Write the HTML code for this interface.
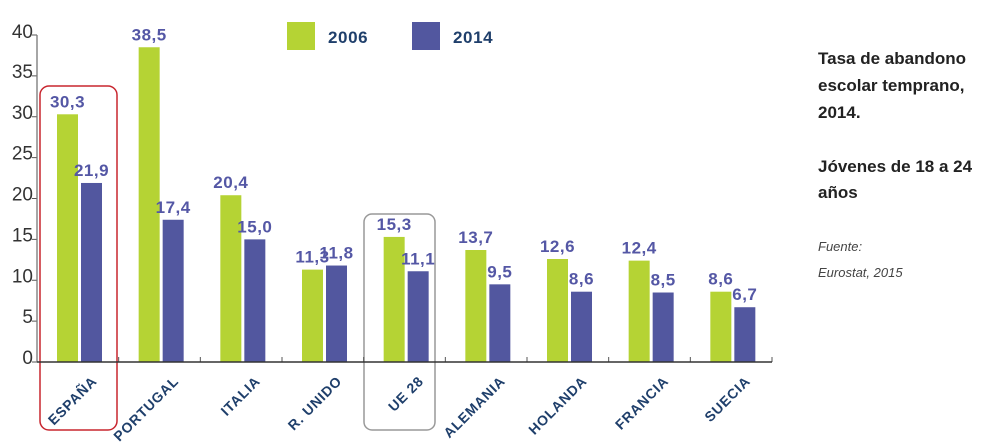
<!DOCTYPE html>
<html><head><meta charset="utf-8"><style>
body{margin:0;background:#fff;width:987px;height:447px;overflow:hidden;font-family:"Liberation Sans",sans-serif}
</style></head><body>
<svg width="987" height="447" id="c" style="position:absolute;left:0;top:0">
<rect x="40" y="86" width="77" height="344" rx="9" fill="none" stroke="#c8262f" stroke-width="1.5"/>
<rect x="364" y="214" width="71" height="216" rx="8" fill="none" stroke="#999" stroke-width="1.5"/>
<g id="plot"></g>
<rect x="287" y="22" width="28" height="28" fill="#b5d334"/>
<text x="328" y="43" font-size="17" font-weight="bold" fill="#1f3f6b" letter-spacing="0.6">2006</text>
<rect x="412" y="22" width="28" height="28" fill="#52579f"/>
<text x="453" y="43" font-size="17" font-weight="bold" fill="#1f3f6b" letter-spacing="0.6">2014</text>
<g font-size="17" font-weight="bold" fill="#222">
<text x="818" y="64">Tasa de abandono</text>
<text x="818" y="91">escolar temprano,</text>
<text x="818" y="118">2014.</text>
<text x="818" y="172">Jóvenes de 18 a 24</text>
<text x="818" y="198">años</text>
</g>
<text x="818" y="251" font-size="13" font-style="italic" fill="#444">Fuente:</text>
<text x="818" y="277" font-size="13" font-style="italic" fill="#444">Eurostat, 2015</text>
</svg>
<script>
const categories=["ESPAÑA","PORTUGAL","ITALIA","R. UNIDO","UE 28","ALEMANIA","HOLANDA","FRANCIA","SUECIA"];
const values2006=[30.3,38.5,20.4,11.3,15.3,13.7,12.6,12.4,8.6];
const values2014=[21.9,17.4,15.0,11.8,11.1,9.5,8.6,8.5,6.7];
const yTicks=[0,5,10,15,20,25,30,35,40];
const NS="http://www.w3.org/2000/svg";
const g=document.getElementById('plot');
const x0=37,x1=772,y0=362,yTop=35,yMax=40;
const gw=(x1-x0)/categories.length;
const y=v=>y0-(v/yMax)*(y0-yTop);
function mk(t,a){const e=document.createElementNS(NS,t);for(const k in a)e.setAttribute(k,a[k]);g.appendChild(e);return e;}
const fmt=v=>v.toFixed(1).replace('.',',');
yTicks.forEach(t=>{
 const l=mk('line',{x1:x0-5,x2:x0,y1:y(t),y2:y(t),stroke:'#555','stroke-width':1});
 
 
 const tx=mk('text',{x:x0-4,y:y(t)+(t===40?3:2),'text-anchor':'end','font-size':19,fill:'#333'});
 tx.textContent=t;
 
 
});
categories.forEach((c,i)=>{
 const gx=x0+i*gw;
 const bars=[[values2006[i],'#b5d334',gx+20,'bar-2006'],[values2014[i],'#52579f',gx+44,'bar-2014']];
 bars.forEach(([v,col,bx,nm])=>{
  const r=mk('rect',{x:bx,y:y(v),width:21,height:y0-y(v),fill:col});
  
  
  const t=mk('text',{x:bx+10.5,y:y(v)-7,'text-anchor':'middle','font-size':17,'font-weight':'bold',fill:'#5457a5','letter-spacing':'0.5'});
  t.textContent=fmt(v);
  
  
 });
 const tk=mk('line',{x1:gx+gw,x2:gx+gw,y1:y0-5,y2:y0,stroke:'#555'});
 
 
 const lx=gx+gw/2+20,ly=y0+20;
 const lb=mk('text',{x:lx,y:ly,'text-anchor':'end','font-size':14,'font-weight':'bold',fill:'#1f3f6b','letter-spacing':'0.8',transform:`rotate(-45 ${lx} ${ly})`});
 lb.textContent=c;
 
 
});
const ya=mk('line',{x1:x0,x2:x0,y1:yTop,y2:y0,stroke:'#777','stroke-width':1.3});


const xa=mk('line',{x1:x0,x2:x1,y1:y0,y2:y0,stroke:'#333','stroke-width':1.5});


</script>
</body></html>
